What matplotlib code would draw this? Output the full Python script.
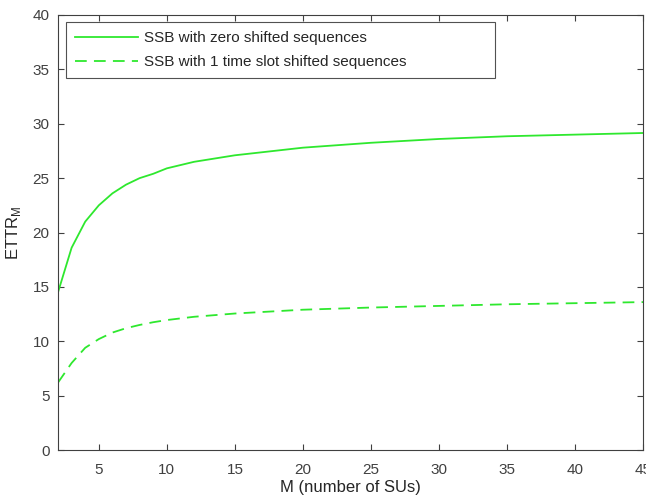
import numpy as np
import matplotlib.pyplot as plt

# =========================
# Data
# =========================
m_vals = [2, 3, 4, 5, 6, 7, 8, 9, 10, 12, 15, 20, 25, 30, 35, 40, 45]
ettr_zero = [14.5, 18.6, 21.0, 22.5, 23.6, 24.4, 25.0, 25.4, 25.9, 26.5,
             27.1, 27.8, 28.25, 28.6, 28.85, 29.0, 29.15]
ettr_shift = [6.2, 8.0, 9.4, 10.2, 10.8, 11.2, 11.5, 11.75, 11.95, 12.25,
              12.55, 12.9, 13.1, 13.25, 13.4, 13.5, 13.6]

label_zero = "SSB with zero shifted sequences"
label_shift = "SSB with 1 time slot shifted sequences"

plt.rcParams['font.family'] = ['Liberation Sans', 'DejaVu Sans']

fig = plt.figure(figsize=(6.46, 4.95), dpi=100)
ax = fig.add_axes([0.0898, 0.0909, 0.9056, 0.8788])

green = '#2ee82e'
ax.plot(m_vals, ettr_zero, color=green, lw=1.3, label=label_zero)
ax.plot(m_vals, ettr_shift, color=green, lw=1.3, ls=(0, (6.5, 4)), label=label_shift)

ax.set_xlim(2, 45)
ax.set_ylim(0, 40)
ax.set_xticks(np.arange(5, 46, 5))
ax.set_yticks(np.arange(0, 41, 5))

ax.tick_params(direction='in', top=True, right=True, labelsize=11,
               colors='#404040', length=4, width=0.8)
ax.tick_params(axis='x', pad=9)
ax.tick_params(axis='y', pad=6)
for s in ax.spines.values():
    s.set_color('#404040')
    s.set_linewidth(0.8)

ax.set_xlabel("M (number of SUs)", fontsize=12, color='#262626', labelpad=2.5)
ax.set_ylabel(r"ETTR$_\mathregular{M}$", fontsize=12, color='#262626', labelpad=7)

# legend box stretched to the width used in the original
leg = ax.legend(loc='upper left', fontsize=11, frameon=True, fancybox=False,
                edgecolor='#262626', bbox_to_anchor=(0.0137, 0.86, 0.733, 0.124),
                mode='expand', handlelength=4.1, handletextpad=0.4,
                borderpad=0.6, labelspacing=0.65, borderaxespad=0)
leg.get_frame().set_linewidth(0.8)
for t in leg.get_texts():
    t.set_color('#262626')

fig.savefig("out.png", dpi=100)
